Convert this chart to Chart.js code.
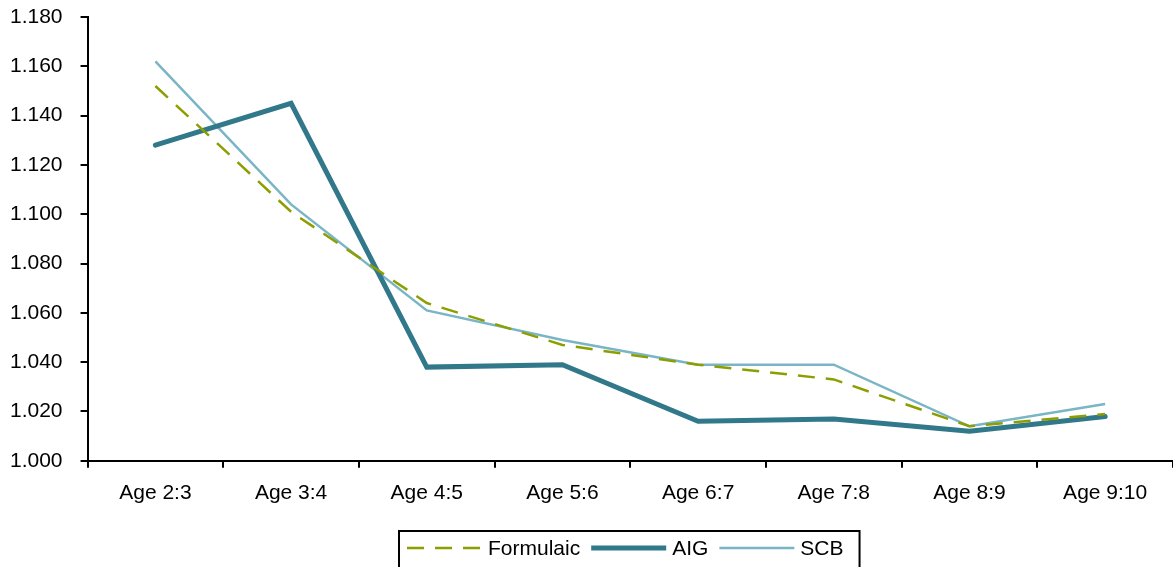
<!DOCTYPE html>
<html>
<head>
<meta charset="utf-8">
<script src="https://cdn.jsdelivr.net/npm/chart.js@4/dist/chart.umd.min.js"></script>
<style>
  html, body { margin: 0; padding: 0; background: #fff; }
  #wrap { width: 1173px; height: 567px; }
</style>
</head>
<body>
<div id="wrap"><canvas id="c" width="1173" height="567"></canvas></div>
<script>
const categories = ["Age 2:3", "Age 3:4", "Age 4:5", "Age 5:6", "Age 6:7", "Age 7:8", "Age 8:9", "Age 9:10"];
const formulaic = [1.152, 1.101, 1.064, 1.047, 1.039, 1.033, 1.014, 1.019];
const aig       = [1.128, 1.145, 1.038, 1.039, 1.016, 1.017, 1.012, 1.018];
const scb       = [1.162, 1.104, 1.061, 1.049, 1.039, 1.039, 1.014, 1.023];
const yTicks = [1.000, 1.020, 1.040, 1.060, 1.080, 1.100, 1.120, 1.140, 1.160, 1.180];

const FONT = "'Liberation Sans', Arial, sans-serif";
const FONT_SIZE = 21;

// Custom legend drawn from the datasets (so dashed sample renders correctly)
const boxLegend = {
  id: 'boxLegend',
  afterDraw(chart) {
    const ctx = chart.ctx;
    const area = chart.chartArea;
    const sampleW = 75, gapText = 6, gapItem = 11;
    ctx.save();
    ctx.font = FONT_SIZE + "px " + FONT;
    const items = chart.data.datasets.map(ds => ({
      ds, tw: ctx.measureText(ds.label).width
    }));
    let total = 0;
    items.forEach((it, i) => { total += sampleW + gapText + it.tw + (i < items.length - 1 ? gapItem : 0); });
    const cx = (area.left + area.right) / 2 - 5;
    let x = cx - total / 2;
    const y = 549;
    ctx.strokeStyle = '#000';
    ctx.lineWidth = 2;
    ctx.setLineDash([]);
    ctx.strokeRect(x - 8, 531, total + 8 + 16, 100);
    items.forEach(it => {
      const ds = it.ds;
      ctx.save();
      ctx.strokeStyle = ds.borderColor;
      ctx.lineWidth = ds.borderWidth;
      ctx.setLineDash(ds.borderDash || []);
      ctx.lineCap = 'butt';
      ctx.beginPath();
      ctx.moveTo(x, y - 1);
      ctx.lineTo(x + sampleW, y - 1);
      ctx.stroke();
      ctx.restore();
      x += sampleW + gapText;
      ctx.fillStyle = '#000';
      ctx.textBaseline = 'middle';
      ctx.textAlign = 'left';
      ctx.fillText(ds.label, x, y);
      x += it.tw + gapItem;
    });
    ctx.restore();
  }
};

new Chart(document.getElementById('c'), {
  type: 'line',
  data: {
    labels: categories,
    datasets: [
      { label: 'Formulaic', data: formulaic, borderColor: '#8C9E00', backgroundColor: '#8C9E00',
        borderWidth: 2.5, borderDash: [17, 11], pointRadius: 0, tension: 0, fill: false },
      { label: 'AIG', data: aig, borderColor: '#31788A', backgroundColor: '#31788A',
        borderWidth: 5, borderCapStyle: 'round', pointRadius: 0, tension: 0, fill: false },
      { label: 'SCB', data: scb, borderColor: '#7AB5C6', backgroundColor: '#7AB5C6',
        borderWidth: 2.5, pointRadius: 0, tension: 0, fill: false }
    ]
  },
  options: {
    responsive: false,
    animation: false,
    devicePixelRatio: 1,
    layout: { padding: { top: 17, right: 0, left: -8, bottom: 48 } },
    plugins: {
      tooltip: { enabled: false },
      legend: { display: false }
    },
    scales: {
      x: {
        offset: true,
        grid: { offset: true, drawOnChartArea: false, drawTicks: true, tickLength: 7, color: '#000', lineWidth: 2 },
        border: { display: true, color: '#000', width: 2 },
        ticks: { color: '#000', padding: 13, maxRotation: 0, font: { family: FONT, size: FONT_SIZE } }
      },
      y: {
        min: 1.0,
        max: 1.18,
        afterBuildTicks(scale) { scale.ticks = yTicks.map(v => ({ value: v })); },
        afterFit(scale) { scale.paddingTop = 0; scale.paddingBottom = 0; },
        grid: { drawOnChartArea: false, drawTicks: true, tickLength: 7, color: '#000', lineWidth: 2 },
        border: { display: true, color: '#000', width: 2 },
        ticks: { color: '#000', padding: 18, font: { family: FONT, size: FONT_SIZE },
          callback: (v) => Number(v).toFixed(3) }
      }
    }
  },
  plugins: [boxLegend]
});
</script>
</body>
</html>
